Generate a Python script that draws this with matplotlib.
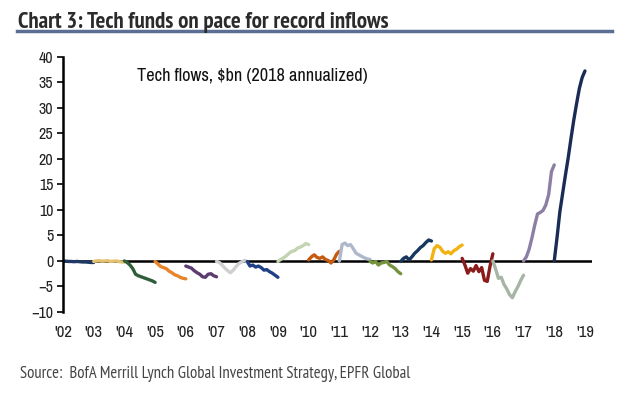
import numpy as np
import matplotlib
matplotlib.use("Agg")
import matplotlib.pyplot as plt

plt.rcParams['font.family'] = ['Archivo Narrow', 'DejaVu Sans']

years = list(range(2002, 2019))
tick_labels = ["'02", "'03", "'04", "'05", "'06", "'07", "'08", "'09", "'10",
               "'11", "'12", "'13", "'14", "'15", "'16", "'17", "'18", "'19"]

flows_2002 = [0, -0.05, -0.1, -0.1, -0.15, -0.1, -0.15, -0.2, -0.2, -0.25, -0.3, -0.3]
flows_2003 = [-0.1, 0, 0.05, -0.05, 0, 0.05, -0.1, -0.05, 0, -0.1, -0.2, -0.2]
flows_2004 = [0, -0.3, -0.8, -1.5, -2.6, -2.9, -3.1, -3.3, -3.5, -3.7, -3.9, -4.2]
flows_2005 = [-0.1, -0.6, -1.1, -1.3, -1.5, -2.0, -2.3, -2.7, -2.9, -3.2, -3.4, -3.5]
flows_2006 = [-1.0, -1.2, -1.4, -1.9, -2.3, -2.6, -3.1, -3.2, -2.6, -2.5, -2.9, -3.1]
flows_2007 = [-0.1, -0.3, -0.8, -1.4, -1.9, -2.3, -1.8, -1.1, -0.5, -0.2, 0.1, -0.2]
flows_2008 = [-0.1, -1.0, -0.8, -1.2, -1.0, -1.3, -1.8, -1.7, -2.1, -2.4, -2.8, -3.2]
flows_2009 = [-0.1, 0.3, 0.6, 1.0, 1.5, 1.9, 2.0, 2.5, 2.7, 3.0, 3.4, 3.2]
flows_2010 = [0.2, 0.8, 1.2, 0.7, 0.5, 0.8, 0.3, 0.1, -0.4, 0.2, 1.3, 1.9]
flows_2011 = [0.0, 3.2, 3.5, 3.0, 3.2, 2.4, 1.5, 1.2, 0.9, 0.6, 0.4, 0.3]
flows_2012 = [-0.1, -0.4, -0.1, -0.8, -0.4, -0.3, -0.1, -0.8, -1.1, -1.5, -2.1, -2.5]
flows_2013 = [-0.1, 0.5, 0.8, 0.2, 0.8, 1.5, 2.0, 2.6, 3.0, 3.6, 4.1, 3.9]
flows_2014 = [0.2, 2.4, 3.0, 2.7, 1.9, 1.5, 1.8, 1.4, 2.0, 2.3, 2.8, 3.1]
flows_2015 = [0.5, -0.8, -2.4, -1.5, -2.0, -0.9, -2.1, -1.3, -3.8, -4.0, -1.0, 1.4]
flows_2016 = [0.0, -1.6, -3.4, -3.2, -4.6, -5.5, -6.6, -7.2, -6.0, -5.0, -3.8, -2.8]
flows_2017 = [0.0, 0.8, 2.3, 4.5, 7.0, 9.2, 9.5, 9.9, 11.0, 13.0, 17.5, 18.8]
flows_2018 = [0.0, 4.6, 9.6, 13.2, 16.8, 20.2, 24.0, 27.6, 30.8, 33.8, 35.9, 37.2]

series = [flows_2002, flows_2003, flows_2004, flows_2005, flows_2006, flows_2007,
          flows_2008, flows_2009, flows_2010, flows_2011, flows_2012, flows_2013,
          flows_2014, flows_2015, flows_2016, flows_2017, flows_2018]

colors = ["#1F3864", "#E3C16F", "#2F5F3A", "#E8842A", "#5C3B6F", "#CFCFCF",
          "#1F3F86", "#C4D3B2", "#C55A11", "#ADB9CA", "#76923C", "#17375E",
          "#F2B211", "#8B1C1C", "#A7B5A5", "#8B7FA3", "#1A2B55"]

fig = plt.figure(figsize=(6.28, 3.99), dpi=100)
ax = fig.add_axes([0.1003, 0.218, 0.8424, 0.640])

ax.axhline(0, color="black", lw=1.8, zorder=1)
for yr, vals, c in zip(years, series, colors):
    x = yr + np.linspace(0, 1, len(vals))
    ax.plot(x, vals, color=c, lw=2.4, solid_capstyle="round", zorder=2)

ax.set_xlim(2002, 2019.23)
ax.set_ylim(-10, 40)
ax.set_yticks(range(-10, 41, 5))
ax.set_xticks(range(2002, 2020))
ax.set_xticklabels(tick_labels)

for s in ["top", "right", "bottom"]:
    ax.spines[s].set_visible(False)
ax.spines["left"].set_linewidth(1.8)
ax.tick_params(axis="y", direction="out", length=4, width=1.2, labelsize=11.5, pad=3,
               labelcolor="#222222")
ax.tick_params(axis="x", length=0, labelsize=12, pad=9, labelcolor="#222222")

ax.text(0.14, 0.925, "Tech flows, $bn (2018 annualized)", transform=ax.transAxes,
        fontsize=13.2, ha="left", va="center", color="#111111")

fig.text(0.029, 0.944, "Chart 3: Tech funds on pace for record inflows",
         fontsize=16.5, fontweight="bold", color="#2b2b2b", ha="left", va="center",
         family=["PT Sans Narrow", "DejaVu Sans"])
fig.add_artist(plt.Line2D([0.027, 0.975], [0.922, 0.922], transform=fig.transFigure,
                          color="#5B6F95", lw=2.5))

fig.text(0.032, 0.062, "Source:  BofA Merrill Lynch Global Investment Strategy, EPFR Global",
         fontsize=12, color="#444444", ha="left", va="center",
         family=["PT Sans Narrow", "DejaVu Sans"])

fig.savefig("out.png", dpi=100)
